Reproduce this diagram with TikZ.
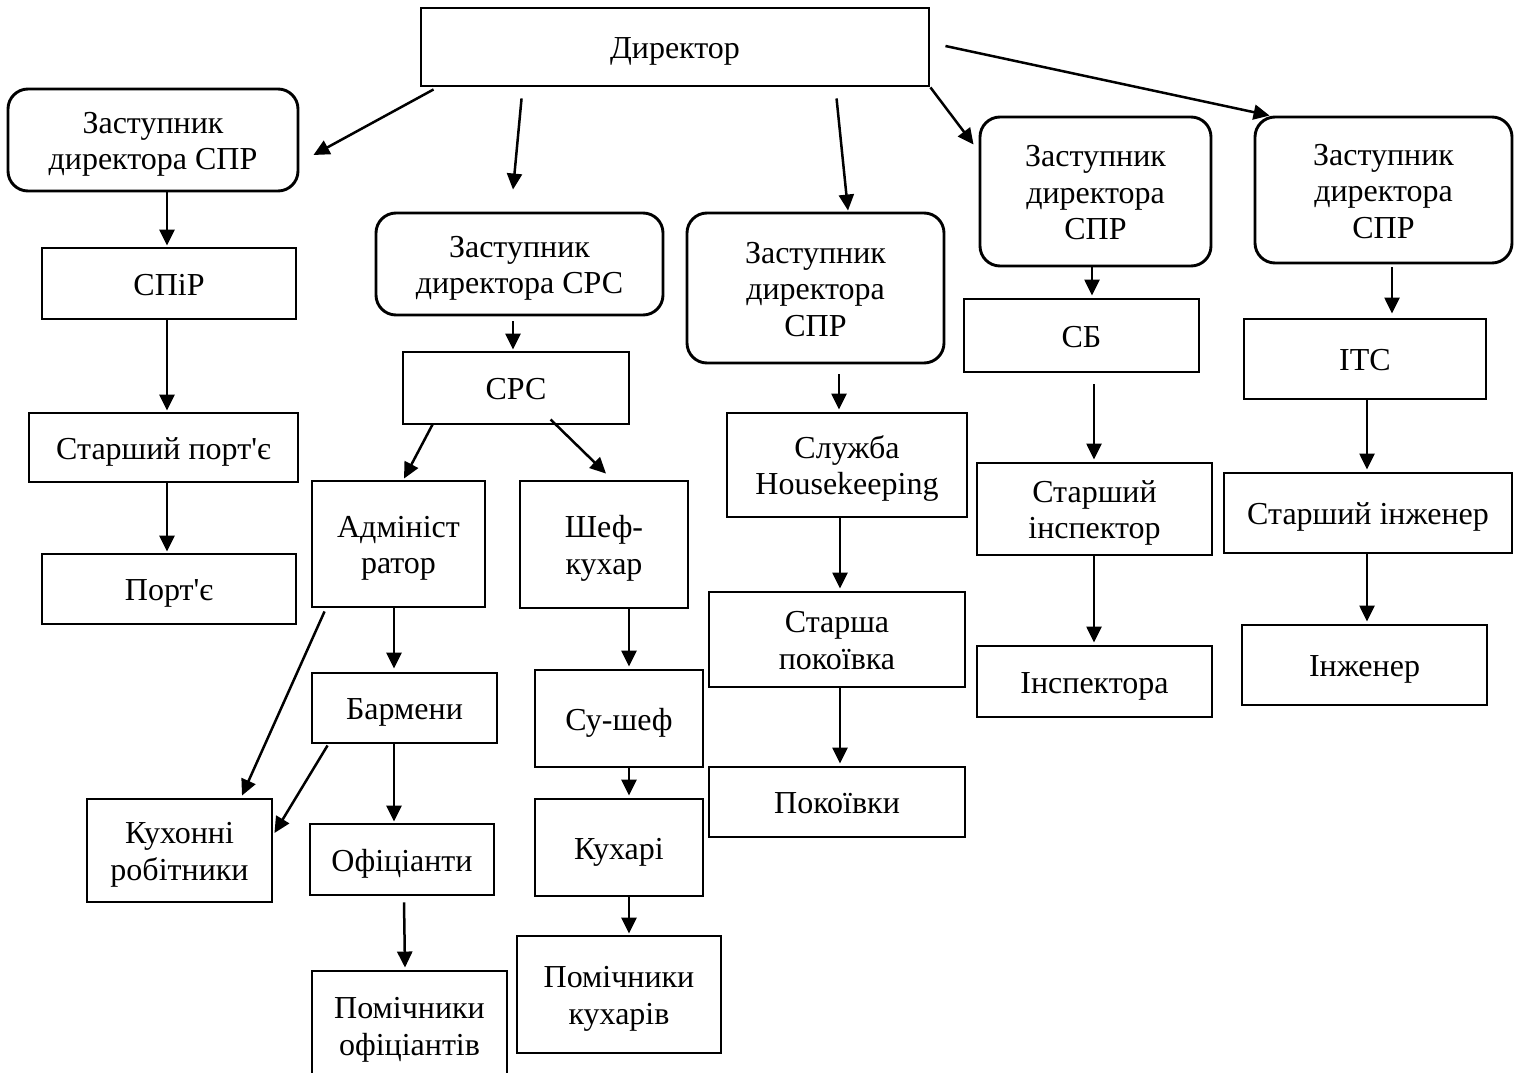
\documentclass[tikz,border=0pt]{standalone}
\usepackage{fontspec}
\setmainfont{Liberation Serif}[Ligatures=TeXOff]
\usetikzlibrary{arrows.meta,calc}
\newcommand\myTop{\rule{0pt}{31pt}}
\newcommand\myBot{\rule[-8pt]{0pt}{8pt}}
\newcommand\mytxt[1]{\myTop#1\myBot}
\begin{document}
\begin{tikzpicture}[x=1pt,y=-1pt,
  box/.style={draw, line width=2.9pt, inner sep=0pt, align=center,
    font=\fontsize{32}{36.5}\selectfont},
  rbox/.style={box, rounded corners=20pt},
  arr/.style={line width=2.5pt, -{Triangle[length=16pt,width=15pt]}}]
\useasboundingbox (0,0) rectangle (1520,1073);
\clip (0,0) rectangle (1520,1073);
\fill[white] (0,0) rectangle (1520,1073);
% nodes
\node[box, minimum width=508pt, minimum height=78pt] (dir) at (675,47) {\mytxt{Директор}};
\node[rbox, minimum width=290pt, minimum height=102pt] (z1) at (153,140) {\mytxt{Заступник\\директора СПР}};
\node[box, minimum width=254pt, minimum height=71pt] (spir) at (169,283.5) {\mytxt{СПіР}};
\node[box, minimum width=269pt, minimum height=69pt] (stport) at (163.5,447.5) {\mytxt{Старший порт'є}};
\node[box, minimum width=254pt, minimum height=70pt] (port) at (169,589) {\mytxt{Порт'є}};
\node[rbox, minimum width=287pt, minimum height=102pt] (z2) at (519.5,264) {\mytxt{Заступник\\директора СРС}};
\node[box, minimum width=226pt, minimum height=72pt] (srs) at (516,388) {\mytxt{СРС}};
\node[box, minimum width=173pt, minimum height=126pt] (adm) at (398.5,544) {\mytxt{Адмініст\\ратор}};
\node[box, minimum width=168pt, minimum height=127pt] (chef) at (604,544.5) {\mytxt{Шеф-\\кухар}};
\node[box, minimum width=185pt, minimum height=70pt] (barm) at (404.5,708) {\mytxt{Бармени}};
\node[box, minimum width=185pt, minimum height=103pt] (kux) at (179.5,850.5) {\mytxt{Кухонні\\робітники}};
\node[box, minimum width=184pt, minimum height=71pt] (ofic) at (402,859.5) {\mytxt{Офіціанти}};
\node[box, minimum width=195pt, minimum height=109pt] (pomof) at (409.5,1025.5) {\mytxt{Помічники\\офіціантів}};
\node[box, minimum width=168pt, minimum height=97pt] (sushef) at (619,718.5) {\mytxt{Су-шеф}};
\node[box, minimum width=168pt, minimum height=97pt] (kuxari) at (619,847.5) {\mytxt{Кухарі}};
\node[box, minimum width=204pt, minimum height=117pt] (pomkux) at (619,994.5) {\mytxt{Помічники\\кухарів}};
\node[rbox, minimum width=257pt, minimum height=150pt] (z3) at (815.5,288) {\mytxt{Заступник\\директора\\СПР}};
\node[box, minimum width=240pt, minimum height=104pt] (hk) at (847,465) {\mytxt{Служба\\Housekeeping}};
\node[box, minimum width=256pt, minimum height=95pt] (stpok) at (837,639.5) {\mytxt{Старша\\покоївка}};
\node[box, minimum width=256pt, minimum height=70pt] (pok) at (837,802) {\mytxt{Покоївки}};
\node[rbox, minimum width=231pt, minimum height=149pt] (z4) at (1095.5,191.5) {\mytxt{Заступник\\директора\\СПР}};
\node[box, minimum width=235pt, minimum height=73pt] (sb) at (1081.5,335.5) {\mytxt{СБ}};
\node[box, minimum width=235pt, minimum height=92pt] (stinsp) at (1094.5,509) {\mytxt{Старший\\інспектор}};
\node[box, minimum width=235pt, minimum height=71pt] (insp) at (1094.5,681.5) {\mytxt{Інспектора}};
\node[rbox, minimum width=257pt, minimum height=146pt] (z5) at (1383.5,190) {\mytxt{Заступник\\директора\\СПР}};
\node[box, minimum width=242pt, minimum height=80pt] (its) at (1365,359) {\mytxt{ІТС}};
\node[box, minimum width=288pt, minimum height=80pt] (steng) at (1368,513) {\mytxt{Старший інженер}};
\node[box, minimum width=245pt, minimum height=80pt] (eng) at (1364.5,665) {\mytxt{Інженер}};
% connectors
\draw[arr] ($(dir.south west)+(14,2)$) -- ($(z1.east)+(14,15)$);
\draw[arr] ($(dir.south west)+(102,11)$) -- ($(z2.north)+(-6.5,-22)$);
\draw[arr] ($(dir.south west)+(417,11)$) -- ($(z3.north)+(32.5,-1)$);
\draw[arr] (dir.south east) -- ($(z4.north west)+(-5,29)$);
\draw[arr] ($(dir.east)+(15,-1)$) -- ($(z5.north west)+(16,0)$);
\draw[arr] ($(z1.south)+(14,0)$) -- ($(spir.north)+(-2,-1)$);
\draw[arr] ($(spir.south)+(-2,0)$) -- ($(stport.north)+(3.5,-1)$);
\draw[arr] ($(stport.south)+(3.5,0)$) -- ($(port.north)+(-2,-1)$);
\draw[arr] ($(z2.south)+(-6.5,5)$) -- ($(srs.north)+(-3,-1)$);
\draw[arr] ($(srs.south west)+(31,-1)$) -- ($(adm.north)+(5.5,-1)$);
\draw[arr] ($(srs.south west)+(149,-6)$) -- ($(chef.north)+(2,-6)$);
\draw[arr] ($(adm.south)+(-4.5,0)$) -- ($(barm.north)+(-10.5,-3)$);
\draw[arr] ($(adm.south west)+(14,3)$) -- ($(kux.north)+(62.5,-2)$);
\draw[arr] ($(barm.south west)+(17,1)$) -- ($(kux.east)+(1,-17.5)$);
\draw[arr] ($(barm.south)+(-10.5,0)$) -- ($(ofic.north)+(-8,-1)$);
\draw[arr] ($(ofic.south)+(2,6)$) -- ($(pomof.north)+(-4.5,-2)$);
\draw[arr] ($(chef.south)+(25,0)$) -- ($(sushef.north)+(10,-2)$);
\draw[arr] ($(sushef.south)+(10,0)$) -- ($(kuxari.north)+(10,-2)$);
\draw[arr] ($(kuxari.south)+(10,0)$) -- ($(pomkux.north)+(10,-1)$);
\draw[arr] ($(z3.south)+(23.5,10)$) -- ($(hk.north)+(-8,-2)$);
\draw[arr] ($(hk.south)+(-7,0)$) -- ($(stpok.north)+(3,-2)$);
\draw[arr] ($(stpok.south)+(3,0)$) -- ($(pok.north)+(3,-2)$);
\draw[arr] ($(z4.south)+(-3.5,0)$) -- ($(sb.north)+(10.5,-2)$);
\draw[arr] ($(sb.south)+(12.5,11)$) -- ($(stinsp.north)+(-0.5,-2)$);
\draw[arr] ($(stinsp.south)+(-0.5,0)$) -- ($(insp.north)+(-0.5,-2)$);
\draw[arr] ($(z5.south)+(8.5,3)$) -- ($(its.north)+(27,-4)$);
\draw[arr] ($(its.south)+(2,0)$) -- ($(steng.north)+(-1,-2)$);
\draw[arr] ($(steng.south)+(-1,0)$) -- ($(eng.north)+(2.5,-2)$);
\end{tikzpicture}
\end{document}
